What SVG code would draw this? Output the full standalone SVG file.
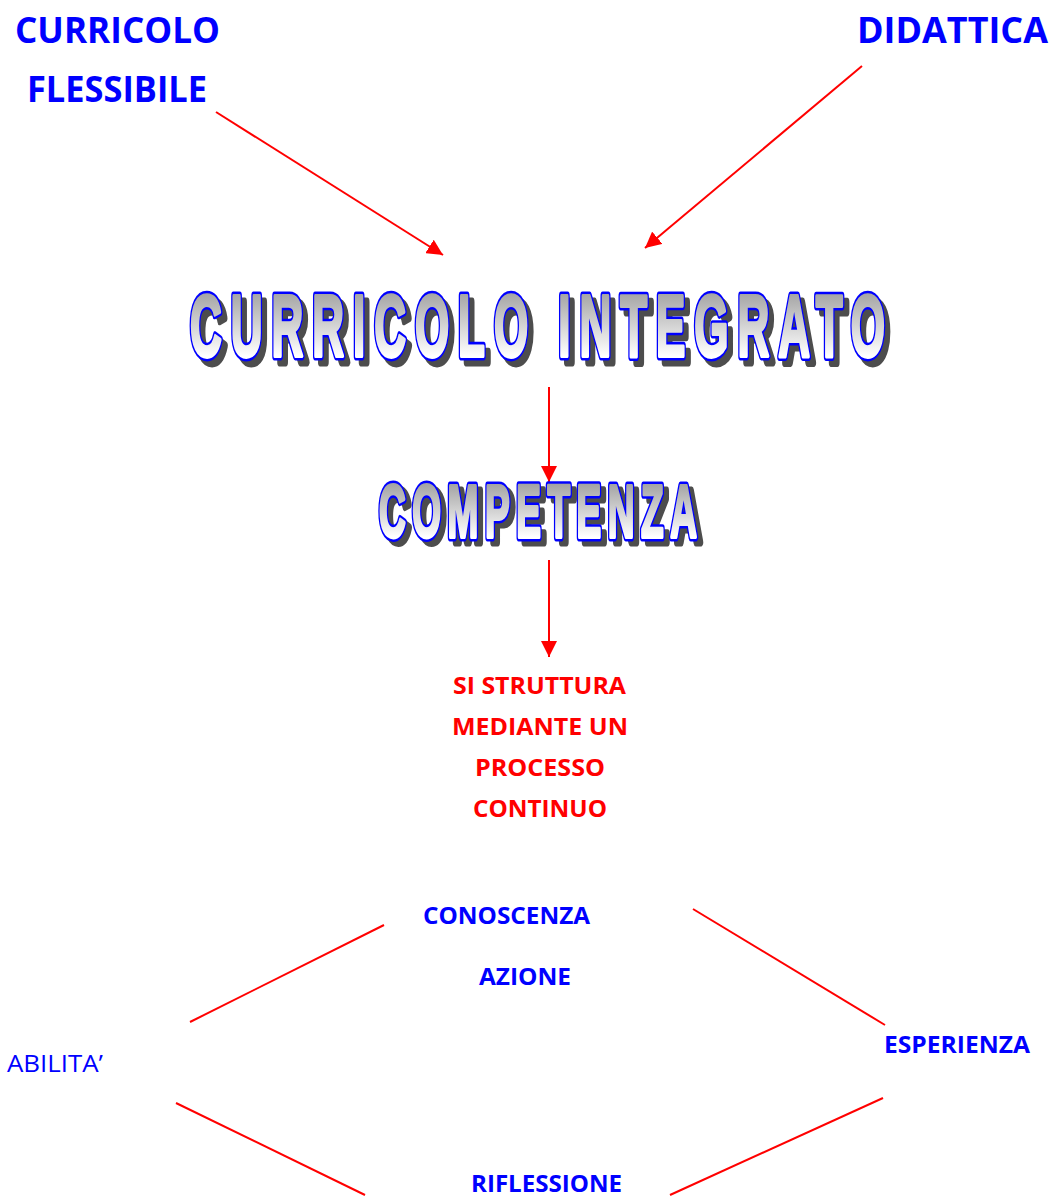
<svg xmlns="http://www.w3.org/2000/svg" width="1055" height="1197" viewBox="0 0 1055 1197">
<defs>
<linearGradient id="wa" x1="0" y1="0" x2="0" y2="1">
<stop offset="0" stop-color="#a0a0a0"/>
<stop offset="1" stop-color="#ffffff"/>
</linearGradient>
<linearGradient id="wa2" gradientUnits="userSpaceOnUse" x1="0" y1="-66" x2="0" y2="0">
<stop offset="0" stop-color="#a0a0a0"/>
<stop offset="1" stop-color="#ffffff"/>
</linearGradient>
<linearGradient id="wa3" gradientUnits="userSpaceOnUse" x1="0" y1="-55" x2="0" y2="0">
<stop offset="0" stop-color="#a0a0a0"/>
<stop offset="1" stop-color="#ffffff"/>
</linearGradient>
<marker id="ah" viewBox="0 0 10 10" refX="10" refY="5" markerWidth="16" markerHeight="16" markerUnits="userSpaceOnUse" orient="auto">
<path d="M0,0 L10,5 L0,10 z" fill="#ff0000"/>
</marker>
</defs>
<style>
.blue{font-family:"Open Sans","Liberation Sans",sans-serif;font-weight:bold;fill:#0000ff}
.red{font-family:"Open Sans","Liberation Sans",sans-serif;font-weight:bold;fill:#ff0000;font-size:23.5px}
.w{font-family:"Liberation Sans",Arial,sans-serif;font-weight:bold;vector-effect:non-scaling-stroke;stroke-linejoin:round}
.sh{fill:#4d4d4d;stroke:#4d4d4d;stroke-width:7}
.ol{fill:#0000ff;stroke:#0000ff;stroke-width:7}
.ln{stroke:#ff0000;stroke-width:2;fill:none}
</style>
<rect width="1055" height="1197" fill="#ffffff"/>
<g id="connectors">
<line class="ln" x1="216" y1="112" x2="443" y2="255" marker-end="url(#ah)"/>
<line class="ln" x1="862" y1="66" x2="645" y2="248" marker-end="url(#ah)"/>
<line class="ln" x1="549" y1="387" x2="549" y2="482" marker-end="url(#ah)"/>
<line class="ln" x1="549" y1="560" x2="549" y2="657" marker-end="url(#ah)"/>
<line class="ln" x1="384" y1="925" x2="190" y2="1022"/>
<line class="ln" x1="693" y1="909" x2="885" y2="1025"/>
<line class="ln" x1="176" y1="1103" x2="365" y2="1195"/>
<line class="ln" x1="883" y1="1098" x2="670" y2="1195"/>
</g>
<g id="curricolo-flessibile">
<text class="blue" x="15" y="43" font-size="35" textLength="205" lengthAdjust="spacingAndGlyphs">CURRICOLO</text>
<text class="blue" x="27" y="102" font-size="35" textLength="180" lengthAdjust="spacingAndGlyphs">FLESSIBILE</text>
</g>
<g id="didattica">
<text class="blue" x="857" y="43" font-size="35" textLength="191" lengthAdjust="spacingAndGlyphs">DIDATTICA</text>
</g>
<g id="curricolo-integrato">
<text class="w sh" transform="translate(195,362) scale(0.5,1)" font-size="88" textLength="1390" lengthAdjust="spacing">CURRICOLO INTEGRATO</text>
<text class="w ol" transform="translate(190,356) scale(0.5,1)" font-size="88" textLength="1390" lengthAdjust="spacing">CURRICOLO INTEGRATO</text>
<text class="w" transform="translate(190,356) scale(0.5,1)" font-size="88" textLength="1390" lengthAdjust="spacing" fill="url(#wa2)" stroke="url(#wa2)" stroke-width="3">CURRICOLO INTEGRATO</text>
</g>
<g id="competenza">
<text class="w sh" transform="translate(384,542) scale(0.5,1)" font-size="74" textLength="636" lengthAdjust="spacing">COMPETENZA</text>
<text class="w ol" transform="translate(379,537) scale(0.5,1)" font-size="74" textLength="636" lengthAdjust="spacing">COMPETENZA</text>
<text class="w" transform="translate(379,537) scale(0.5,1)" font-size="74" textLength="636" lengthAdjust="spacing" fill="url(#wa3)" stroke="url(#wa3)" stroke-width="3">COMPETENZA</text>
</g>
<g id="processo">
<text class="red" x="453" y="694" textLength="173" lengthAdjust="spacingAndGlyphs">SI STRUTTURA</text>
<text class="red" x="452" y="735" textLength="176" lengthAdjust="spacingAndGlyphs">MEDIANTE UN</text>
<text class="red" x="475" y="776" textLength="130" lengthAdjust="spacingAndGlyphs">PROCESSO</text>
<text class="red" x="473" y="817" textLength="134" lengthAdjust="spacingAndGlyphs">CONTINUO</text>
</g>
<g id="conoscenza">
<text class="blue" x="423" y="924" font-size="23.5" textLength="167" lengthAdjust="spacingAndGlyphs">CONOSCENZA</text>
</g>
<g id="azione">
<text class="blue" x="479" y="985" font-size="23.5" textLength="92" lengthAdjust="spacingAndGlyphs">AZIONE</text>
</g>
<g id="abilita">
<text x="7" y="1072" font-family="Open Sans, Liberation Sans, sans-serif" font-size="23.5" fill="#0000ff" textLength="96" lengthAdjust="spacingAndGlyphs">ABILITA’</text>
</g>
<g id="esperienza">
<text class="blue" x="884" y="1053" font-size="23.5" textLength="146" lengthAdjust="spacingAndGlyphs">ESPERIENZA</text>
</g>
<g id="riflessione">
<text class="blue" x="471" y="1192" font-size="23.5" textLength="151" lengthAdjust="spacingAndGlyphs">RIFLESSIONE</text>
</g>
</svg>
